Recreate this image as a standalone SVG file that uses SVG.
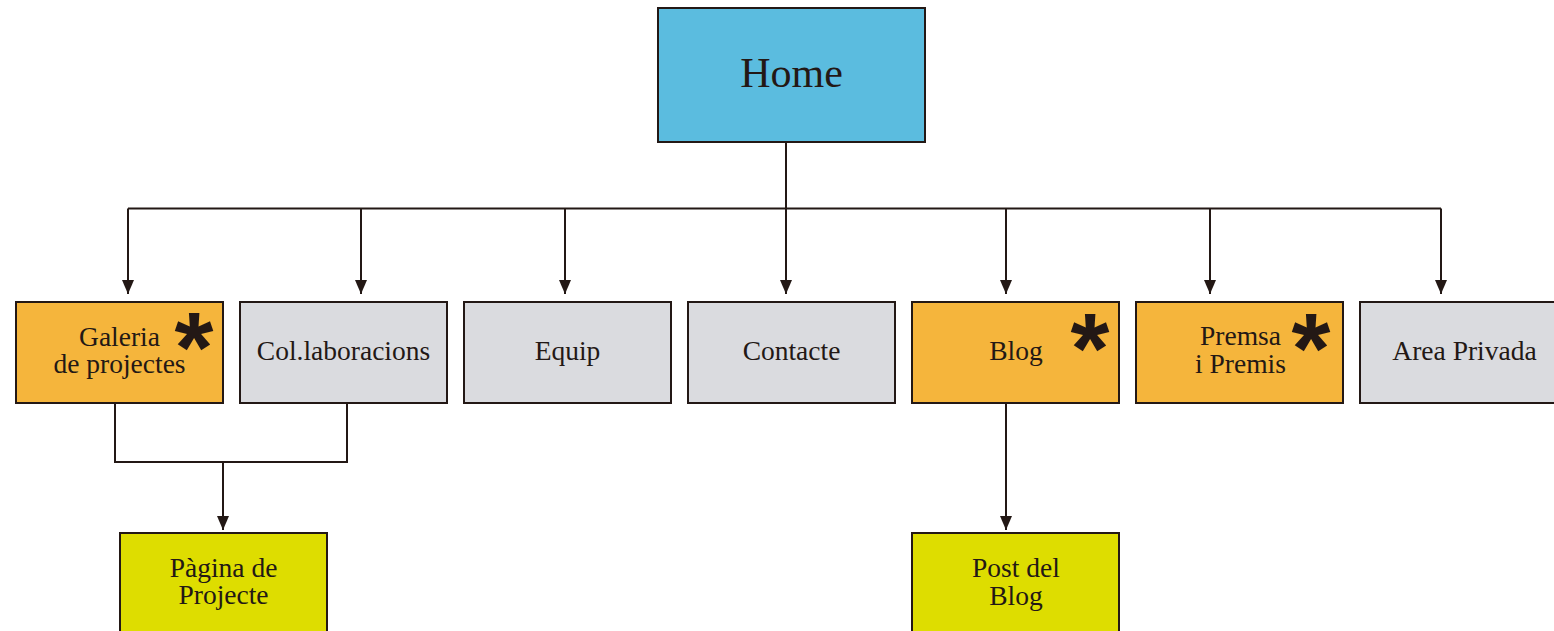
<svg xmlns="http://www.w3.org/2000/svg" width="1554" height="631" viewBox="0 0 1554 631">
<style>
  .box{stroke:#231815;stroke-width:2}
  .home{fill:#5bbcdf}
  .orange{fill:#f5b53c}
  .gray{fill:#dadbdf}
  .lime{fill:#dedd00}
  .lbl{font-family:"Liberation Serif","Times New Roman",serif;font-size:27.5px;fill:#231815;text-anchor:middle}
  .big{font-size:42px}
  .star{font-family:"Liberation Sans",Arial,sans-serif;font-weight:bold;font-size:100px;fill:#231815;text-anchor:middle}
  .wire{fill:none;stroke:#231815;stroke-width:2}
</style>
<defs>
  <marker id="arr" viewBox="0 0 14 12" refX="14" refY="6" markerWidth="14" markerHeight="12" markerUnits="userSpaceOnUse" orient="auto">
    <path d="M0,0 L14,6 L0,12 Z" fill="#231815"/>
  </marker>
</defs>
<rect width="1554" height="631" fill="#ffffff"/>
<g id="connectors">
  <path class="wire" d="M786,142 V294" marker-end="url(#arr)"/>
  <path class="wire" d="M128,208.5 H1441"/>
  <path class="wire" d="M128,208.5 V294" marker-end="url(#arr)"/>
  <path class="wire" d="M361,208.5 V294" marker-end="url(#arr)"/>
  <path class="wire" d="M565,208.5 V294" marker-end="url(#arr)"/>
  <path class="wire" d="M1006,208.5 V294" marker-end="url(#arr)"/>
  <path class="wire" d="M1210,208.5 V294" marker-end="url(#arr)"/>
  <path class="wire" d="M1441,208.5 V294" marker-end="url(#arr)"/>
  <path class="wire" d="M115,403 V462 H347 V403"/>
  <path class="wire" d="M223,462 V530" marker-end="url(#arr)"/>
  <path class="wire" d="M1006,403 V530" marker-end="url(#arr)"/>
</g>
<g id="home">
  <rect class="box home" x="658" y="8" width="267" height="134"/>
  <text class="lbl big" x="791.5" y="87">Home</text>
</g>
<g id="galeria">
  <rect class="box orange" x="16" y="302" width="207" height="101"/>
  <text class="lbl" x="119.5" y="346">Galeria</text>
  <text class="lbl" x="119.5" y="373">de projectes</text>
  <text class="star" x="194" y="382">*</text>
</g>
<g id="collaboracions">
  <rect class="box gray" x="240" y="302" width="207" height="101"/>
  <text class="lbl" x="343.5" y="360">Col.laboracions</text>
</g>
<g id="equip">
  <rect class="box gray" x="464" y="302" width="207" height="101"/>
  <text class="lbl" x="567.5" y="360">Equip</text>
</g>
<g id="contacte">
  <rect class="box gray" x="688" y="302" width="207" height="101"/>
  <text class="lbl" x="791.5" y="360">Contacte</text>
</g>
<g id="blog">
  <rect class="box orange" x="912" y="302" width="207" height="101"/>
  <text class="lbl" x="1016" y="360">Blog</text>
  <text class="star" x="1090" y="383">*</text>
</g>
<g id="premsa">
  <rect class="box orange" x="1136" y="302" width="207" height="101"/>
  <text class="lbl" x="1240.5" y="345">Premsa</text>
  <text class="lbl" x="1240.5" y="373">i Premis</text>
  <text class="star" x="1311" y="383">*</text>
</g>
<g id="area-privada">
  <rect class="box gray" x="1360" y="302" width="207" height="101"/>
  <text class="lbl" x="1464.5" y="360">Area Privada</text>
</g>
<g id="pagina-projecte">
  <rect class="box lime" x="120" y="533" width="207" height="110"/>
  <text class="lbl" x="223.5" y="577">Pàgina de</text>
  <text class="lbl" x="223.5" y="604">Projecte</text>
</g>
<g id="post-blog">
  <rect class="box lime" x="912" y="533" width="207" height="110"/>
  <text class="lbl" x="1016" y="577">Post del</text>
  <text class="lbl" x="1016" y="605">Blog</text>
</g>
</svg>
